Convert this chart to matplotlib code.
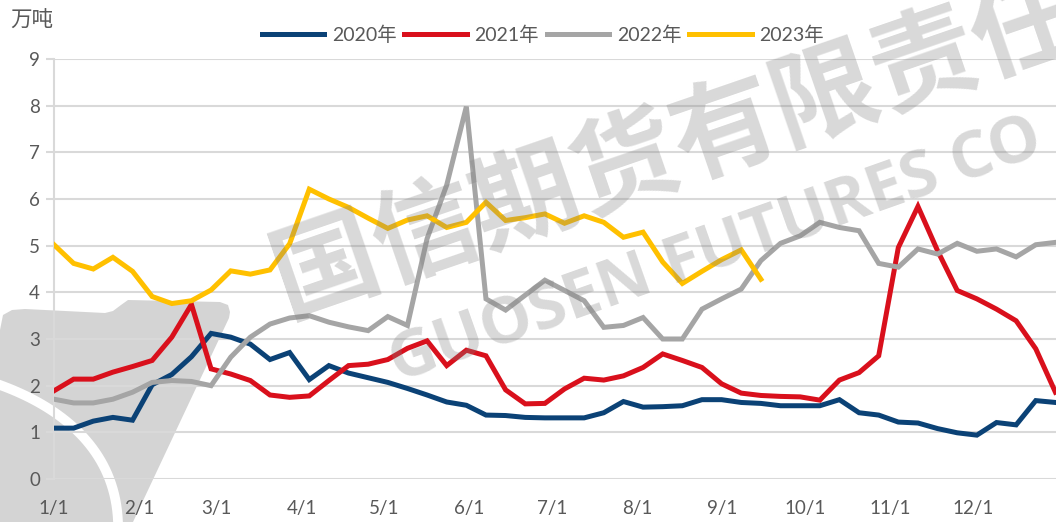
import numpy as np
import matplotlib
matplotlib.use("Agg")
import matplotlib.pyplot as plt
import matplotlib.patches as patches
from matplotlib.lines import Line2D

plt.rcParams['font.family'] = ['Lato', 'Noto Sans CJK SC', 'DejaVu Sans']

# weekly series, 万吨
y2020 = [1.09, 1.09, 1.24, 1.32, 1.26, 2.02, 2.24, 2.62, 3.12, 3.04, 2.89, 2.56,
         2.71, 2.13, 2.43, 2.27, 2.17, 2.07, 1.94, 1.80, 1.65, 1.58, 1.37, 1.36,
         1.32, 1.31, 1.31, 1.31, 1.42, 1.66, 1.54, 1.55, 1.57, 1.70, 1.70, 1.64,
         1.62, 1.57, 1.57, 1.57, 1.70, 1.42, 1.37, 1.22, 1.20, 1.08, 0.99, 0.94,
         1.21, 1.16, 1.68, 1.64]
y2021 = [1.89, 2.14, 2.14, 2.29, 2.41, 2.54, 3.04, 3.74, 2.36, 2.25, 2.11, 1.80,
         1.75, 1.78, 2.11, 2.43, 2.46, 2.56, 2.80, 2.96, 2.43, 2.76, 2.64, 1.91,
         1.61, 1.62, 1.93, 2.16, 2.12, 2.21, 2.39, 2.68, 2.54, 2.39, 2.04, 1.84,
         1.79, 1.77, 1.76, 1.69, 2.12, 2.28, 2.64, 4.96, 5.84, 4.89, 4.04, 3.86,
         3.64, 3.39, 2.79, 1.86]
y2022 = [1.71, 1.63, 1.63, 1.71, 1.86, 2.07, 2.11, 2.09, 2.00, 2.61, 3.04, 3.32,
         3.45, 3.50, 3.36, 3.26, 3.18, 3.48, 3.29, 5.15, 6.30, 7.98, 3.86, 3.62,
         3.94, 4.26, 4.04, 3.82, 3.25, 3.29, 3.46, 3.00, 3.00, 3.64, 3.86, 4.07,
         4.68, 5.05, 5.21, 5.50, 5.39, 5.32, 4.62, 4.54, 4.93, 4.82, 5.05, 4.88,
         4.93, 4.76, 5.02, 5.07]
y2023 = [5.02, 4.62, 4.50, 4.75, 4.45, 3.91, 3.76, 3.82, 4.05, 4.46, 4.39, 4.48,
         5.04, 6.21, 6.00, 5.82, 5.59, 5.37, 5.55, 5.64, 5.39, 5.50, 5.93, 5.54,
         5.60, 5.68, 5.48, 5.64, 5.50, 5.18, 5.29, 4.65, 4.19, 4.45, 4.70, 4.91,
         4.28]

series = [("2020年", y2020, "#0B4276"),
          ("2021年", y2021, "#D9101C"),
          ("2022年", y2022, "#A5A5A5"),
          ("2023年", y2023, "#FFC000")]

# month starts (day of year) used for x labels
month_days = [0, 31, 59, 90, 120, 151, 181, 212, 243, 273, 304, 334]
month_labels = ["1/1", "2/1", "3/1", "4/1", "5/1", "6/1", "7/1", "8/1",
                "9/1", "10/1", "11/1", "12/1"]

n_pts = len(y2020)
txt = "#595959"
grid = "#D9D9D9"
W, H = 1056, 522

fig = plt.figure(figsize=(10.56, 5.22), dpi=100)


def fp(x, y):
    # pixel (from top-left) -> figure fraction
    return (x / W, 1 - y / H)


# logo swoosh in the background
logo_px = [(0, 522), (0, 330), (3, 315), (12, 310), (25, 309), (105, 313),
           (113, 311), (121, 305), (128, 300), (220, 302), (228, 305),
           (230, 312), (229, 318), (133, 522)]
fig.add_artist(patches.Polygon([fp(x, y) for x, y in logo_px], closed=True,
                               facecolor='#D4D4D4', edgecolor='none',
                               transform=fig.transFigure, zorder=-2))
t = np.linspace(0, 1, 40)
bez = np.array([(0, 385), (55, 405), (115, 445), (118, 522)], dtype=float)
arc = ((1 - t) ** 3)[:, None] * bez[0] + (3 * (1 - t) ** 2 * t)[:, None] * bez[1] \
    + (3 * (1 - t) * t ** 2)[:, None] * bez[2] + (t ** 3)[:, None] * bez[3]
fig.add_artist(Line2D(arc[:, 0] / W, 1 - arc[:, 1] / H, color='white', lw=7,
                      transform=fig.transFigure, zorder=-1))

ax = fig.add_axes([54 / W, 43 / H, 1 - 54 / W, 420 / H])
ax.patch.set_visible(False)

for name, vals, col in series:
    ax.plot(np.arange(len(vals)), vals, color=col, lw=3.6, label=name,
            solid_joinstyle='miter', zorder=3)

ax.set_ylim(0, 9)
ax.set_yticks(range(0, 10))
ax.set_xlim(0, n_pts - 1 + 0.03)
ax.set_xticks([d * (n_pts - 1) / 364 for d in month_days])
ax.set_xticklabels(month_labels)

ax.grid(axis='y', color=grid, lw=1.5, zorder=0)
ax.set_axisbelow(True)
for s in ['top', 'right', 'bottom']:
    ax.spines[s].set_visible(False)
ax.spines['left'].set_color(grid)
ax.spines['left'].set_linewidth(1.5)
ax.tick_params(axis='y', length=6, width=1.5, color=grid, labelsize=13.5,
               labelcolor=txt, pad=4)
ax.tick_params(axis='x', length=0, labelsize=13.5, labelcolor=txt, pad=15)

fig.text(10 / W, 1 - 21 / H, "万吨", fontsize=15.5, color=txt, va='center')

leg = fig.legend(loc='center', bbox_to_anchor=(543 / W, 1 - 35 / H),
                 ncol=4, frameon=False, fontsize=14, handlelength=3.2,
                 handletextpad=0.4, columnspacing=0.4, labelcolor=txt)

# watermark
fig.text(676 / W, 1 - 148 / H, "国信期货有限责任", fontsize=76, fontweight='bold',
         color='#808080', alpha=0.3, rotation=19, ha='center', va='center',
         family=['Noto Sans CJK SC'], zorder=10)
fig.text(716 / W, 1 - 252 / H, "GUOSEN FUTURES CO", fontsize=47, fontweight='bold',
         color='#808080', alpha=0.3, rotation=19.5, ha='center', va='center',
         family=['Open Sans', 'DejaVu Sans'], zorder=10)

fig.savefig("out.png", dpi=100)
